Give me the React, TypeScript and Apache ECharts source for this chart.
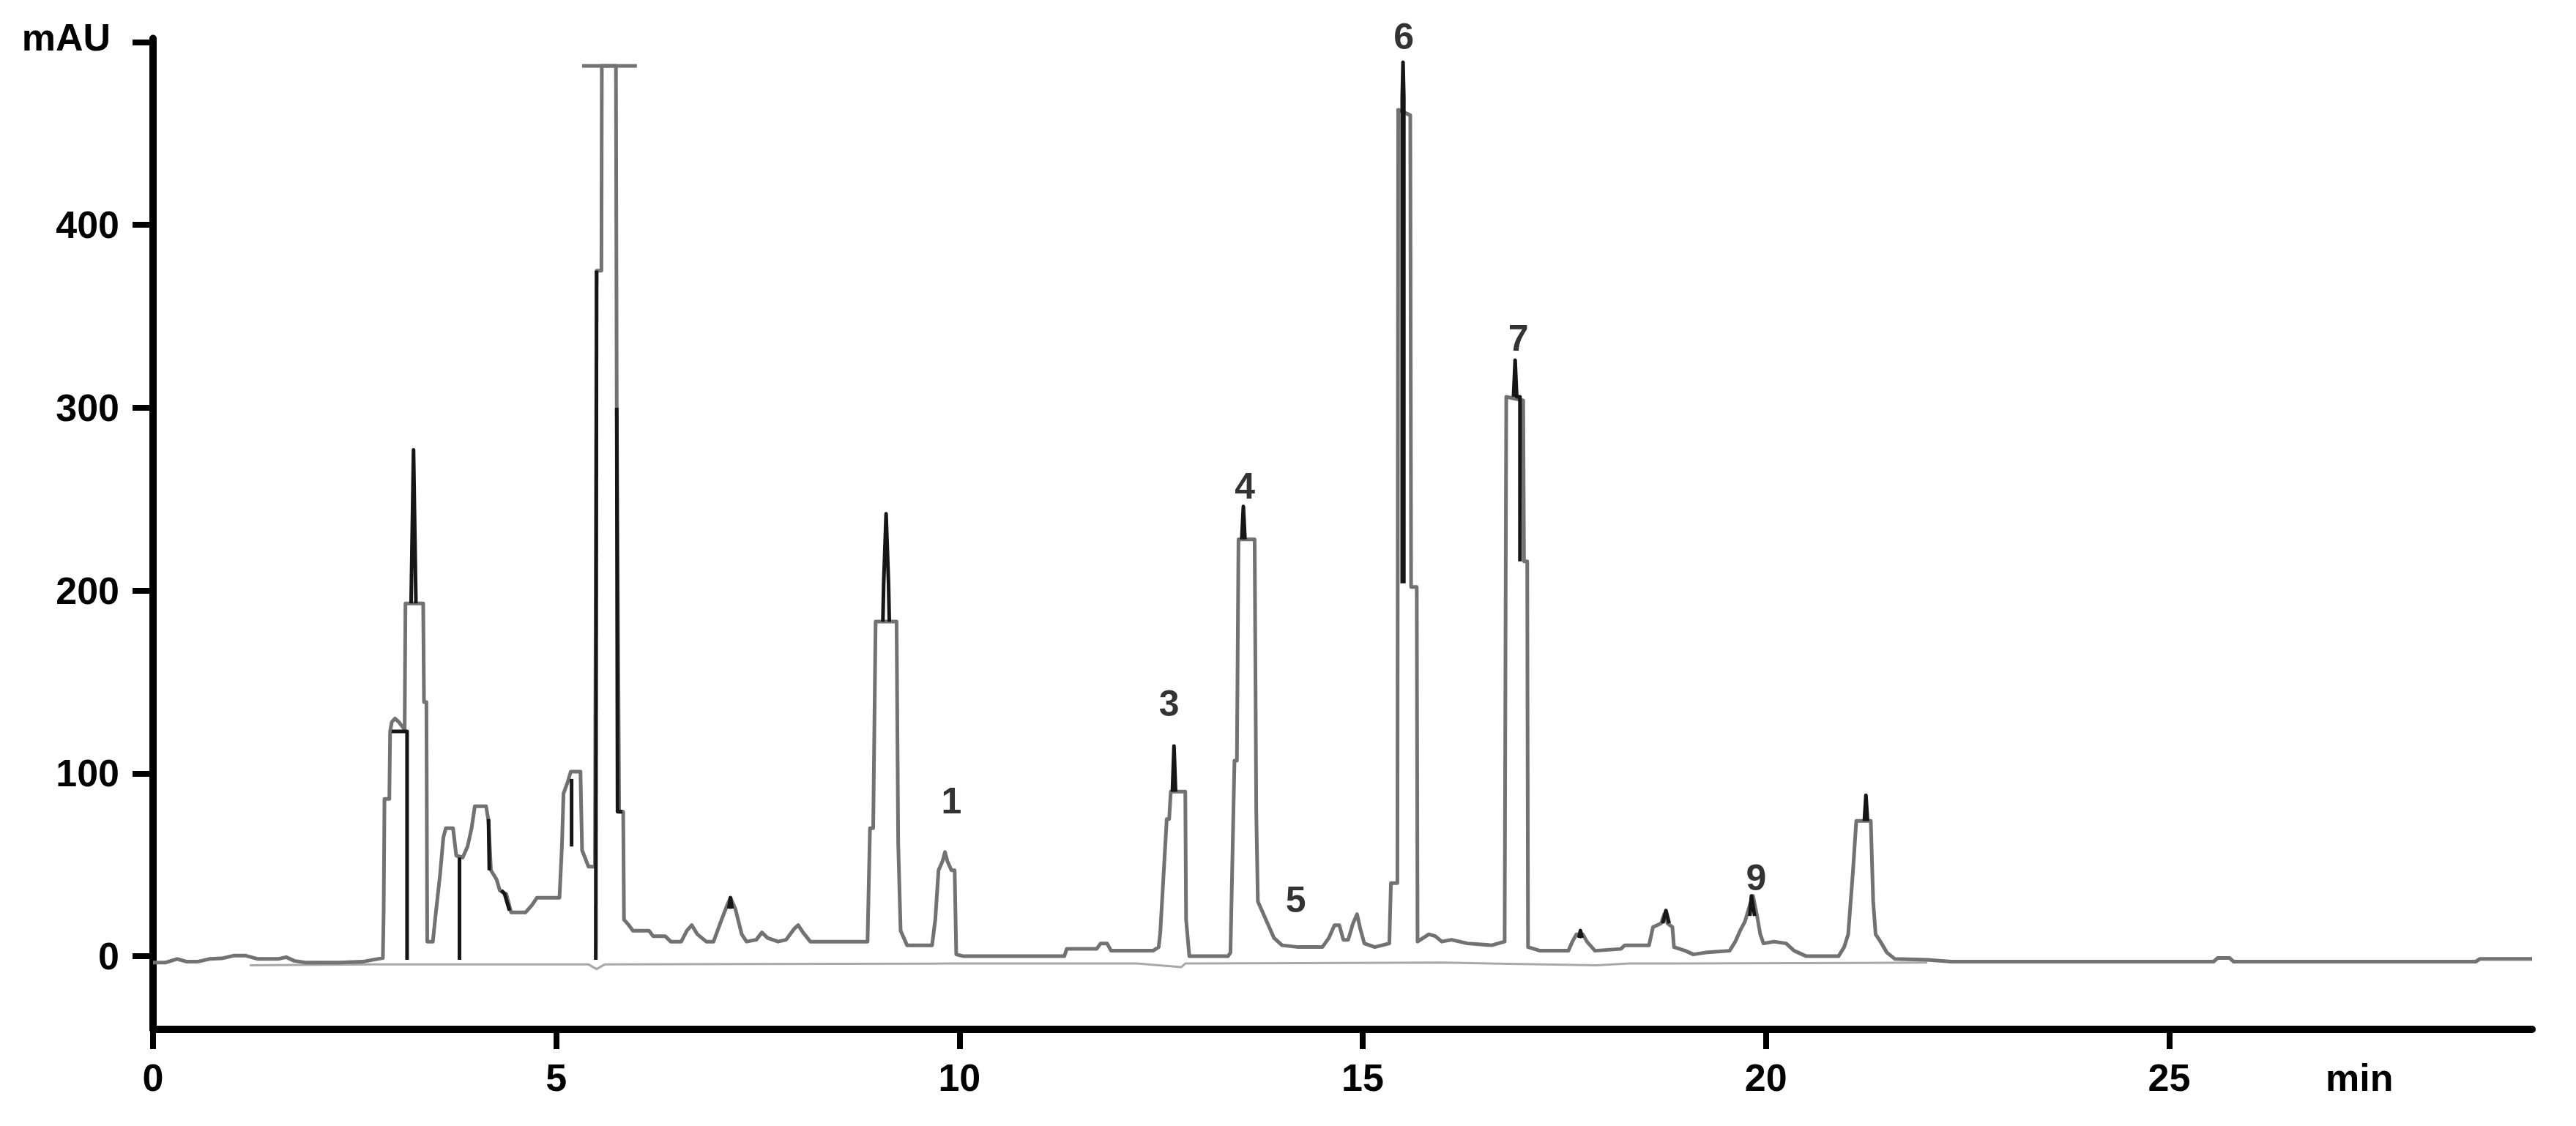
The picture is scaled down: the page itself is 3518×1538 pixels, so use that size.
import React, { useEffect, useRef } from "react";
import * as echarts from "echarts";

// ---- axes ----
const xTicks = [0, 5, 10, 15, 20, 25];
const xUnitLabel = "min";
const xUnitLabelAt = 27.36;
const yTicks = [0, 100, 200, 300, 400, 500];
const yUnitLabel = "mAU";

// ---- chromatogram (time in min, absorbance in mAU) ----
const sampleTrace: number[][] = [
  [0, -3.5], [0.15, -3.5], [0.3, -1.5], [0.42, -3], [0.55, -3], [0.7, -1.5], [0.85, -1.2], [1.0, 0.3], [1.15, 0.3],
  [1.3, -1.5], [1.55, -1.5], [1.65, -0.5], [1.75, -2.5], [1.9, -3.5], [2.3, -3.5], [2.6, -3], [2.72, -2], [2.85, -1],
  [2.86, 25], [2.87, 86], [2.93, 86], [2.94, 123], [2.96, 128], [3.0, 130], [3.05, 128], [3.12, 124], [3.13, 193],
  [3.35, 193], [3.36, 139], [3.39, 139], [3.4, 8], [3.47, 8], [3.5, 21], [3.56, 45], [3.6, 65], [3.63, 70], [3.72, 70],
  [3.76, 55], [3.84, 54], [3.9, 60], [3.95, 70], [3.99, 82], [4.13, 82], [4.16, 74], [4.19, 47], [4.26, 42], [4.3, 36],
  [4.38, 34], [4.44, 24], [4.62, 24], [4.7, 28], [4.76, 32], [5.04, 32], [5.07, 60], [5.09, 89], [5.14, 95], [5.18, 101],
  [5.3, 101], [5.32, 58], [5.4, 49], [5.48, 49], [5.5, 375], [5.56, 375], [5.565, 487], [5.74, 487], [5.75, 300],
  [5.78, 79], [5.83, 79], [5.84, 20], [5.9, 17], [5.95, 14], [6.15, 14], [6.2, 11], [6.35, 11], [6.42, 8], [6.55, 8],
  [6.62, 14], [6.68, 17], [6.75, 12], [6.86, 8], [6.95, 8], [7.05, 20], [7.12, 28], [7.16, 32], [7.22, 26], [7.3, 12],
  [7.36, 8], [7.48, 9], [7.55, 13], [7.62, 10], [7.75, 8], [7.85, 9], [7.95, 15], [8.0, 17], [8.06, 13], [8.15, 8],
  [8.86, 8], [8.89, 70], [8.93, 70], [8.96, 183], [9.22, 183], [9.24, 62], [9.27, 14], [9.35, 6], [9.66, 6], [9.7, 20],
  [9.74, 47], [9.79, 52], [9.82, 57], [9.85, 52], [9.9, 47], [9.94, 47], [9.96, 1], [10.05, 0], [11.3, 0], [11.33, 4],
  [11.7, 4], [11.75, 7], [11.83, 7], [11.88, 3], [12.4, 3], [12.47, 5], [12.49, 13], [12.57, 75], [12.6, 75], [12.62, 90],
  [12.8, 90], [12.81, 20], [12.85, 0], [13.33, 0], [13.36, 2], [13.41, 107], [13.44, 107], [13.46, 228], [13.66, 228],
  [13.68, 79], [13.7, 30], [13.75, 25], [13.82, 18], [13.9, 10], [14.0, 6], [14.2, 5], [14.5, 5], [14.58, 10], [14.65, 17],
  [14.71, 17], [14.76, 9], [14.82, 9], [14.88, 18], [14.93, 23], [14.97, 15], [15.02, 7], [15.15, 5], [15.33, 7],
  [15.35, 40], [15.43, 40], [15.44, 463], [15.59, 460], [15.6, 202], [15.67, 202], [15.68, 8], [15.75, 10], [15.82, 12],
  [15.9, 11], [15.98, 8], [16.1, 9], [16.3, 7], [16.6, 6], [16.76, 8], [16.78, 306], [16.99, 304], [17.0, 216],
  [17.04, 216], [17.05, 5], [17.2, 3], [17.55, 3], [17.6, 8], [17.65, 12], [17.73, 12], [17.78, 8], [17.88, 3], [18.2, 4],
  [18.25, 6], [18.55, 6], [18.6, 16], [18.7, 18], [18.74, 23], [18.78, 18], [18.84, 16], [18.86, 5], [19.0, 3], [19.1, 1],
  [19.25, 2], [19.55, 3], [19.62, 8], [19.68, 14], [19.74, 19], [19.8, 28], [19.84, 33], [19.89, 22], [19.93, 12],
  [19.97, 7], [20.1, 8], [20.25, 7], [20.35, 3], [20.5, 0], [20.9, 0], [20.97, 5], [21.02, 12], [21.08, 47], [21.12, 74],
  [21.3, 74], [21.33, 30], [21.36, 12], [21.42, 8], [21.5, 2], [21.6, -1.5], [22.0, -2], [22.3, -3], [25.55, -3],
  [25.6, -1], [25.75, -1], [25.8, -3], [28.8, -3], [28.85, -1.5], [29.5, -1.5],
];

// dark overlaid trace: only the parts that stand out from the grey trace
const darkSpikes: number[][][] = [
  [[2.96, 123], [3.15, 123], [3.15, -2]],
  [[3.2, 193], [3.23, 277], [3.26, 193]],
  [[3.8, 54], [3.8, -2]],
  [[4.16, 75], [4.17, 47]],
  [[4.32, 36], [4.36, 34], [4.42, 25]],
  [[5.19, 60], [5.19, 97]],
  [[5.49, -2], [5.5, 375]],
  [[5.75, 300], [5.76, 79], [5.82, 79]],
  [[7.14, 26], [7.16, 32], [7.18, 26]],
  [[9.05, 183], [9.06, 204], [9.09, 242], [9.12, 204], [9.13, 183]],
  [[12.64, 90], [12.66, 115], [12.68, 90]],
  [[13.5, 228], [13.52, 246], [13.54, 228]],
  [[15.49, 204], [15.49, 470], [15.5, 489], [15.51, 470], [15.51, 204]],
  [[16.87, 306], [16.89, 326], [16.91, 306], [16.95, 306], [16.95, 216]],
  [[17.68, 10], [17.7, 14], [17.72, 10]],
  [[18.72, 18], [18.76, 25], [18.8, 18]],
  [[19.8, 22], [19.82, 33], [19.86, 22]],
  [[21.22, 74], [21.24, 88], [21.26, 74]],
];

// second (lighter) baseline trace
const referenceBaseline: number[][] = [
  [1.2, -5], [2.7, -4.5], [5.4, -4.5], [5.5, -7], [5.6, -4.5], [9.9, -4], [12.2, -4], [12.75, -6], [12.8, -4],
  [16.0, -3.5], [17.9, -5], [18.3, -4], [22, -3.5],
];

// over-range cap of the clipped peak
const overRangeCap: number[][] = [[5.32, 487], [6.0, 487]];

// peak numbering
const peakNames = ["1", "3", "4", "5", "6", "7", "9"];
const peakLabelT = [9.9, 12.6, 13.54, 14.17, 15.51, 16.93, 19.88];
const peakLabelV = [85, 138, 257, 31, 503, 338, 43];

const FONT = "'Liberation Sans', Arial, Helvetica, sans-serif";
const GREY = "#727272";
const DARK = "#161616";

export default function App() {
  const ref = useRef<HTMLDivElement>(null);

  useEffect(() => {
    if (!ref.current) return;
    const chart = echarts.init(ref.current, undefined, { renderer: "svg" });

    const series: any[] = [
      {
        type: "line",
        name: "reference",
        data: referenceBaseline,
        showSymbol: false,
        lineStyle: { color: "#a8a8a8", width: 3 },
        z: 2,
      },
      {
        type: "line",
        name: "sample",
        data: sampleTrace,
        showSymbol: false,
        lineStyle: { color: GREY, width: 5, join: "round" },
        z: 3,
      },
      {
        type: "line",
        name: "cap",
        data: overRangeCap,
        showSymbol: false,
        lineStyle: { color: GREY, width: 5 },
        z: 3,
      },
      ...darkSpikes.map((seg, i) => ({
        type: "line",
        name: "dark" + i,
        data: seg,
        showSymbol: false,
        lineStyle: { color: DARK, width: 5, join: "round" },
        z: 4,
      })),
      {
        type: "scatter",
        name: "peaks",
        clip: false,
        symbolSize: 0,
        data: peakNames.map((n, i) => ({ name: n, value: [peakLabelT[i], peakLabelV[i]] })),
        label: {
          show: true,
          position: "inside",
          formatter: "{b}",
          fontSize: 50,
          fontWeight: "bold",
          fontFamily: FONT,
          color: "#000",
        },
        z: 5,
      },
    ];

    chart.setOption({
      animation: false,
      backgroundColor: "#ffffff",
      grid: { left: 209, right: 60, top: 52.5, bottom: 132 },
      xAxis: {
        type: "value",
        min: 0,
        max: 29.5,
        axisLine: { show: true, onZero: false, lineStyle: { color: "#000", width: 10 } },
        axisTick: { show: true, length: 27, customValues: xTicks, lineStyle: { color: "#000", width: 8 } },
        axisLabel: {
          customValues: [...xTicks, xUnitLabelAt],
          formatter: (v: number) => (v > 26 ? xUnitLabel : String(v)),
          margin: 40,
          fontSize: 52,
          fontWeight: "bold",
          fontFamily: FONT,
          color: "#000",
        },
        splitLine: { show: false },
      },
      yAxis: {
        type: "value",
        min: -40,
        max: 502,
        axisLine: { show: true, onZero: false, lineStyle: { color: "#000", width: 10 } },
        axisTick: { show: true, length: 28, customValues: yTicks, lineStyle: { color: "#000", width: 8 } },
        axisLabel: {
          customValues: yTicks,
          formatter: (v: number) => (v === 500 ? "{u|" + yUnitLabel + "}" : String(v)),
          margin: 46,
          fontSize: 52,
          fontWeight: "bold",
          fontFamily: FONT,
          color: "#000",
          rich: {
            u: { fontSize: 52, fontWeight: "bold", fontFamily: FONT, color: "#000", padding: [0, 12, 12, 0] },
          },
        },
        splitLine: { show: false },
      },
      series,
    });

    return () => chart.dispose();
  }, []);

  return (
    <div
      ref={ref}
      style={{ position: "fixed", left: 0, top: 0, width: 3518, height: 1538, background: "#fff" }}
    />
  );
}
